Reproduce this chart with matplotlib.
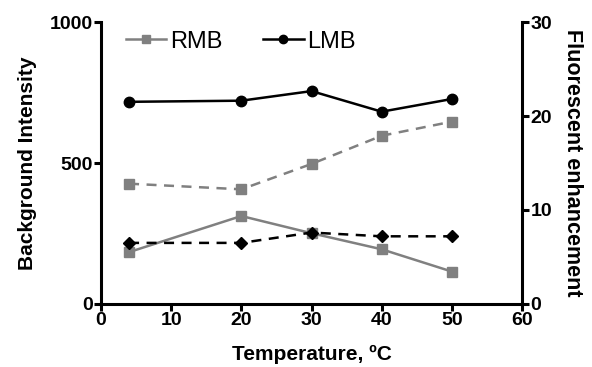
import matplotlib
matplotlib.use("Agg")
import matplotlib.pyplot as plt

# data
temperature = [4, 20, 30, 40, 50]
rmb_background = [184, 312, 251, 194, 115]
lmb_background = [717, 721, 755, 682, 727]
rmb_enhancement = [12.8, 12.2, 14.9, 17.9, 19.4]
lmb_enhancement = [6.5, 6.5, 7.6, 7.2, 7.2]

x_ticks = [0, 10, 20, 30, 40, 50, 60]
left_ticks = [0, 500, 1000]
right_ticks = [0, 10, 20, 30]

plt.rcParams["font.family"] = ["Liberation Sans", "DejaVu Sans"]
gray = "#808080"

fig = plt.figure(figsize=(5.92, 3.67), dpi=100)
ax = fig.add_axes([0.1706, 0.1717, 0.7112, 0.7683])
ax2 = ax.twinx()

# solid lines -> background intensity (left axis)
ax.plot(temperature, rmb_background, color=gray, lw=1.8, marker="s", ms=7.5,
        label="RMB")
ax.plot(temperature, lmb_background, color="black", lw=1.8, marker="o", ms=7.5,
        label="LMB")

# dashed lines -> fluorescent enhancement (right axis)
ax2.plot(temperature, rmb_enhancement, color=gray, lw=1.8, ls=(0, (4, 3)),
         marker="s", ms=7.5)
ax2.plot(temperature, lmb_enhancement, color="black", lw=1.8, ls=(0, (4, 3)),
         marker="D", ms=6)

ax.set_xlim(0, 60)
ax.set_ylim(0, 1000)
ax2.set_ylim(0, 30)
ax.set_xticks(x_ticks)
ax.set_yticks(left_ticks)
ax2.set_yticks(right_ticks)

for a in (ax, ax2):
    a.spines["top"].set_visible(False)
    for s in ("left", "right", "bottom"):
        a.spines[s].set_linewidth(2.2)
    a.tick_params(width=2.2, length=5, labelsize=14, pad=1)
    for lab in a.get_xticklabels() + a.get_yticklabels():
        lab.set_fontweight("bold")
ax.spines["right"].set_visible(False)
ax2.spines["left"].set_visible(False)
ax2.spines["bottom"].set_visible(False)

ax.set_xlabel("Temperature, ºC", fontsize=15, fontweight="bold", labelpad=11)
ax.set_ylabel("Background Intensity", fontsize=15, fontweight="bold", labelpad=9)
ax2.set_ylabel("Fluorescent enhancement", fontsize=15.5, fontweight="bold",
               rotation=-90, labelpad=22)

ax.legend(loc="upper left", bbox_to_anchor=(0.009, 1.045), ncol=2, frameon=False,
          fontsize=17, handlelength=1.7, handletextpad=0.15, columnspacing=1.75,
          markerscale=0.8)

fig.savefig("out.png", dpi=100)
